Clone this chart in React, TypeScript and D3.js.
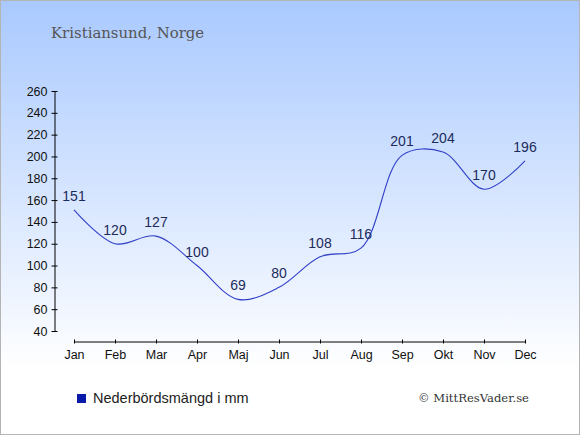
import React, { useRef, useEffect } from 'react';
import * as d3 from 'd3';

const months = ['Jan', 'Feb', 'Mar', 'Apr', 'Maj', 'Jun', 'Jul', 'Aug', 'Sep', 'Okt', 'Nov', 'Dec'];
const precipitation = [151, 120, 127, 100, 69, 80, 108, 116, 201, 204, 170, 196];
const yTicks = [40, 60, 80, 100, 120, 140, 160, 180, 200, 220, 240, 260];

const title = 'Kristiansund, Norge';
const legendLabel = 'Nederbördsmängd i mm';
const credit = '© MittResVader.se';

const width = 580;
const height = 435;

const App: React.FC = () => {
  const svgRef = useRef<SVGSVGElement>(null);

  useEffect(() => {
    if (!svgRef.current) return;
    document.body.style.margin = '0';

    const svg = d3.select(svgRef.current);
    svg.selectAll('*').remove();

    // Background gradient
    const defs = svg.append('defs');
    const grad = defs
      .append('linearGradient')
      .attr('id', 'bg')
      .attr('x1', 0)
      .attr('y1', 0)
      .attr('x2', 0)
      .attr('y2', 1);
    grad.append('stop').attr('offset', '0%').attr('stop-color', '#a9c9ff');
    grad.append('stop').attr('offset', '85%').attr('stop-color', '#ffffff');
    grad.append('stop').attr('offset', '100%').attr('stop-color', '#ffffff');

    svg
      .append('rect')
      .attr('x', 0.5)
      .attr('y', 0.5)
      .attr('width', width - 1)
      .attr('height', height - 1)
      .attr('fill', 'url(#bg)')
      .attr('stroke', '#b4b4b4');

    // Scales
    const x = d3.scalePoint<string>().domain(months).range([74, 525]);
    const y = d3.scaleLinear().domain([40, 260]).range([331, 91]);

    // Title
    svg
      .append('text')
      .attr('x', 51)
      .attr('y', 38)
      .style('font-family', '"DejaVu Serif", Georgia, serif')
      .style('font-size', '14.9px')
      .attr('fill', '#555555')
      .text(title);

    // Y axis
    const yAxis = svg
      .append('g')
      .attr('transform', 'translate(54.5,0)')
      .call(
        d3
          .axisLeft(y)
          .tickValues(yTicks)
          .tickSize(3)
          .tickPadding(4)
          .tickSizeOuter(0)
      );
    yAxis.selectAll('.tick line').attr('x1', 3).attr('x2', -3).attr('stroke', '#000');
    yAxis.select('.domain').attr('stroke', '#000');
    yAxis
      .selectAll('text')
      .attr('fill', '#111')
      .style('font-family', '"Liberation Sans", Arial, sans-serif')
      .style('font-size', '12.5px');

    // X axis
    const xAxis = svg
      .append('g')
      .attr('transform', 'translate(0,341.5)')
      .call(d3.axisBottom(x).tickSize(3).tickPadding(6).tickSizeOuter(0));
    xAxis.selectAll('.tick line').attr('y1', -2).attr('y2', 2).attr('stroke', '#000');
    xAxis.select('.domain').attr('stroke', '#000');
    xAxis
      .selectAll('text')
      .attr('fill', '#111')
      .style('font-family', '"Liberation Sans", Arial, sans-serif')
      .style('font-size', '12.5px');

    // Line
    const line = d3
      .line<number>()
      .x((_, i) => x(months[i]) as number)
      .y((d) => y(d))
      .curve(d3.curveCatmullRom.alpha(0.5));

    svg
      .append('path')
      .datum(precipitation)
      .attr('d', line)
      .attr('fill', 'none')
      .attr('stroke', '#3040c8')
      .attr('stroke-width', 1.1);

    // Value labels
    svg
      .selectAll('.label')
      .data(precipitation)
      .enter()
      .append('text')
      .attr('class', 'label')
      .attr('x', (_, i) => x(months[i]) as number)
      .attr('y', (d) => y(d) - 9)
      .attr('text-anchor', 'middle')
      .attr('fill', '#1d2b5c')
      .style('font-family', '"Liberation Sans", Arial, sans-serif')
      .style('font-size', '14px')
      .text((d) => d);

    // Legend
    svg
      .append('rect')
      .attr('x', 77)
      .attr('y', 394)
      .attr('width', 9)
      .attr('height', 9)
      .attr('fill', '#0a1aa8');
    svg
      .append('text')
      .attr('x', 93)
      .attr('y', 403)
      .attr('fill', '#222')
      .style('font-family', '"Liberation Sans", Arial, sans-serif')
      .style('font-size', '14.5px')
      .text(legendLabel);

    svg
      .append('text')
      .attr('x', 418)
      .attr('y', 402)
      .attr('fill', '#333')
      .style('font-family', '"DejaVu Serif", Georgia, serif')
      .style('font-size', '11.6px')
      .text(credit);
  }, []);

  return <svg ref={svgRef} width={width} height={height} style={{ display: 'block' }} />;
};

export default App;
